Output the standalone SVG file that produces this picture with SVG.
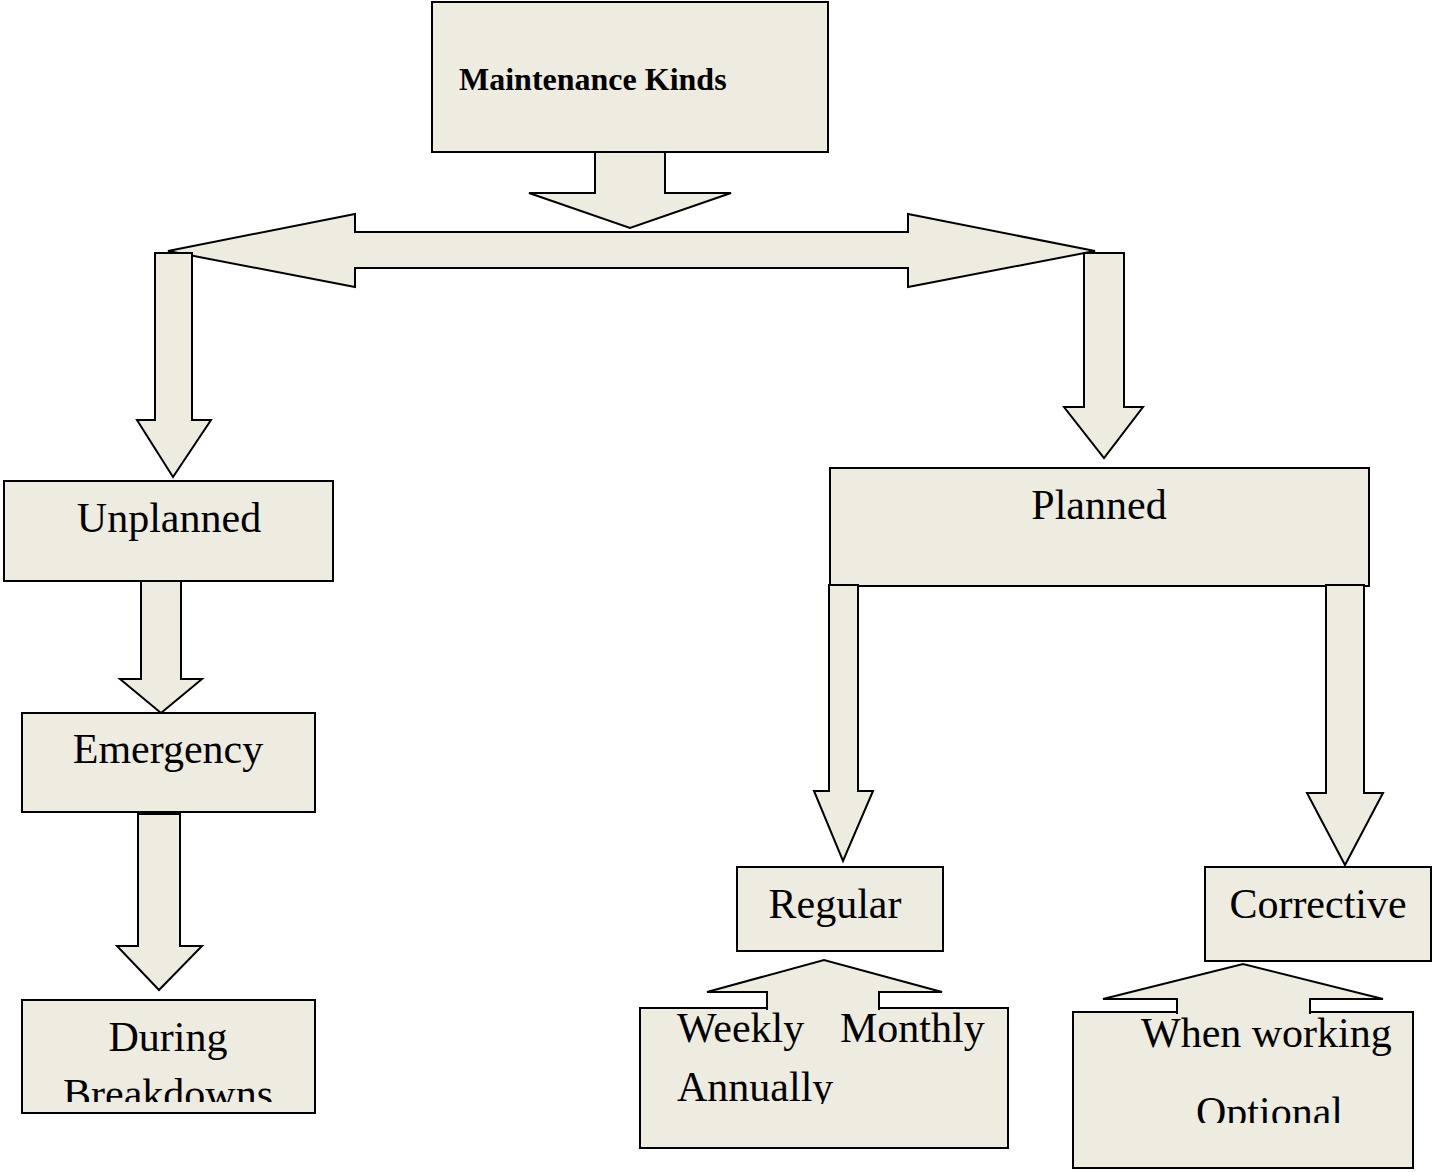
<svg xmlns="http://www.w3.org/2000/svg" width="1432" height="1172" viewBox="0 0 1432 1172">
<style>
.box{fill:#EEECE1;stroke:#000;stroke-width:2}
.arr{fill:#EEECE1;stroke:#000;stroke-width:2;stroke-linejoin:miter}
.t{font-family:"Liberation Serif","Times New Roman",serif;font-size:42px;fill:#000}
.tb{font-family:"Liberation Serif","Times New Roman",serif;font-size:32px;font-weight:bold;fill:#000}
</style>
<defs>
<clipPath id="c1"><rect x="22" y="1000" width="293" height="102"/></clipPath>
<clipPath id="c2"><rect x="640" y="1008" width="368" height="96"/></clipPath>
<clipPath id="c3"><rect x="1073" y="1012" width="340" height="111"/></clipPath>
</defs>
<rect width="1432" height="1172" fill="#fff"/>
<g id="n-root">
<rect class="box" x="432" y="2" width="396" height="150"/>
<text class="tb" x="459" y="90">Maintenance Kinds</text>
</g>
<g id="n-unplanned">
<rect class="box" x="4" y="481" width="329" height="100"/>
<text class="t" x="169" y="532" text-anchor="middle">Unplanned</text>
</g>
<g id="n-emergency">
<rect class="box" x="22" y="713" width="293" height="99"/>
<text class="t" x="168" y="763" text-anchor="middle">Emergency</text>
</g>
<g id="n-during">
<rect class="box" x="22" y="1000" width="293" height="113"/>
<g clip-path="url(#c1)">
<text class="t" x="168" y="1051" text-anchor="middle">During</text>
<text class="t" x="168" y="1108" text-anchor="middle">Breakdowns</text>
</g>
</g>
<g id="n-planned">
<rect class="box" x="830" y="468" width="539" height="118"/>
<text class="t" x="1099" y="519" text-anchor="middle">Planned</text>
</g>
<g id="n-regular">
<rect class="box" x="737" y="867" width="206" height="84"/>
<text class="t" x="835" y="918" text-anchor="middle">Regular</text>
</g>
<g id="n-corrective">
<rect class="box" x="1205" y="867" width="226" height="94"/>
<text class="t" x="1318" y="918" text-anchor="middle">Corrective</text>
</g>
<g id="n-weekly">
<rect class="box" x="640" y="1008" width="368" height="140"/>
<g clip-path="url(#c2)">
<text class="t" x="677" y="1042">Weekly</text>
<text class="t" x="840" y="1042">Monthly</text>
<text class="t" x="677" y="1101">Annually</text>
</g>
</g>
<g id="n-when">
<rect class="box" x="1073" y="1012" width="340" height="156"/>
<g clip-path="url(#c3)">
<text class="t" x="1141" y="1047">When working</text>
<text class="t" x="1196" y="1126">Optional</text>
</g>
</g>
<g id="connectors">
<polygon class="arr" points="595,152 665,152 665,193 731,193 630,228 529,193 595,193"/>
<polygon class="arr" points="168,251 355,214 355,232 908,232 908,214 1095,251 908,287 908,268 355,268 355,287"/>
<polygon class="arr" points="155,253 192,253 192,420 211,420 173,477 137,420 155,420"/>
<polygon class="arr" points="1084,253 1124,253 1124,407 1143,407 1104,458 1064,407 1084,407"/>
<polygon class="arr" points="141,581 181,581 181,679 202,679 161,713 120,679 141,679"/>
<polygon class="arr" points="138,814 180,814 180,946 202,946 159,990 117,946 138,946"/>
<polygon class="arr" points="829,585 858,585 858,791 873,791 843,861 814,791 829,791"/>
<polygon class="arr" points="1326,585 1364,585 1364,793 1383,793 1345,865 1307,793 1326,793"/>
<path class="arr" d="M767,1010 L767,992 L707,992 L824,960 L942,992 L879,992 L879,1010"/>
<path class="arr" d="M1177,1014 L1177,999 L1103,999 L1243,964 L1383,999 L1310,999 L1310,1014"/>
</g>
</svg>
